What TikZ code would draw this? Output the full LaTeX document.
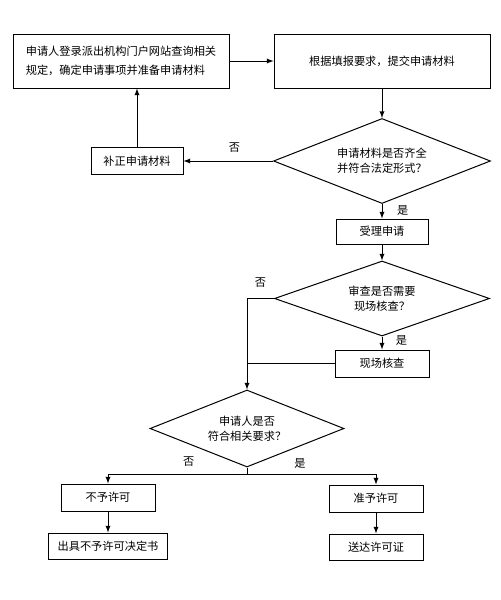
\documentclass[tikz,border=0pt]{standalone}
\usepackage{fontspec}
\setmainfont{Noto Sans CJK SC}
\usetikzlibrary{shapes.geometric}
\begin{document}
\begin{tikzpicture}[x=0.75pt,y=-0.75pt,line width=0.75pt,>=latex]
\tikzstyle{every node}=[font=\fontsize{8.4pt}{11.3pt}\selectfont,
                        inner sep=0pt]
\tikzstyle{box}=[rectangle, draw, fill=white, align=center]
\tikzstyle{decision}=[diamond, draw, fill=white, align=center, aspect=2.5]
\useasboundingbox (0,0) rectangle (500,600);
\node[box, minimum width=162pt, minimum height=40.5pt, align=left] (login) at (121,61)
  {申请人登录派出机构门户网站查询相关\\[3pt]规定，确定申请事项并准备申请材料};
\node[box, minimum width=162pt, minimum height=40.5pt] (submit) at (382,61) {根据填报要求，提交申请材料};
\node[decision, minimum width=162.75pt, minimum height=63.75pt] (check) at (382,161)
  {申请材料是否齐全\\并符合法定形式？};
\node[box, minimum width=69pt, minimum height=20.25pt] (amend) at (137,161) {补正申请材料};
\node[box, minimum width=69pt, minimum height=18.75pt] (accept) at (382,231.5) {受理申请};
\node[decision, minimum width=161.25pt, minimum height=56.25pt] (need) at (382,298.5)
  {审查是否需要\\现场核查？};
\node[box, minimum width=70.5pt, minimum height=20.25pt] (site) at (382,363.5) {现场核查};
\node[decision, minimum width=145.5pt, minimum height=57.75pt] (meet) at (247,428.5)
  {申请人是否\\符合相关要求？};
\node[box, minimum width=70.5pt, minimum height=20.25pt] (deny) at (108,497.5) {不予许可};
\node[box, minimum width=70.5pt, minimum height=20.25pt] (grant) at (376,498.5) {准予许可};
\node[box, minimum width=89.25pt, minimum height=19.5pt] (notice) at (108,546) {出具不予许可决定书};
\node[box, minimum width=70.5pt, minimum height=19.5pt] (permit) at (376,547) {送达许可证};
\draw[->] (login) -- (submit);
\draw[->] (submit) -- (check);
\draw[->] (check.west) -- node[pos=0.43, above=6pt]{否} (amend.east);
\draw[->] (amend.north) -- (amend.north |- login.south);
\draw[->] (check.south) -- node[pos=0.45, right=11pt]{是} (accept.north);
\draw[->] (accept) -- (need);
\draw[->] (need.west) -| node[pos=0.25, above=8pt]{否} (meet.north);
\draw[->] (need.south) -- node[pos=0.3, right=10pt]{是} (site.north);
\draw (site.west) -- (site.west -| meet.north);
\draw (meet.south) -- ++(0,7) coordinate (split);
\draw[->] (split) -| node[pos=0.21, above=5.5pt]{否} (deny.north);
\draw[->] (split) -| node[pos=0.205, above=4pt]{是} (grant.north);
\draw[->] (deny) -- (notice);
\draw[->] (grant) -- (permit);
\end{tikzpicture}
\end{document}
